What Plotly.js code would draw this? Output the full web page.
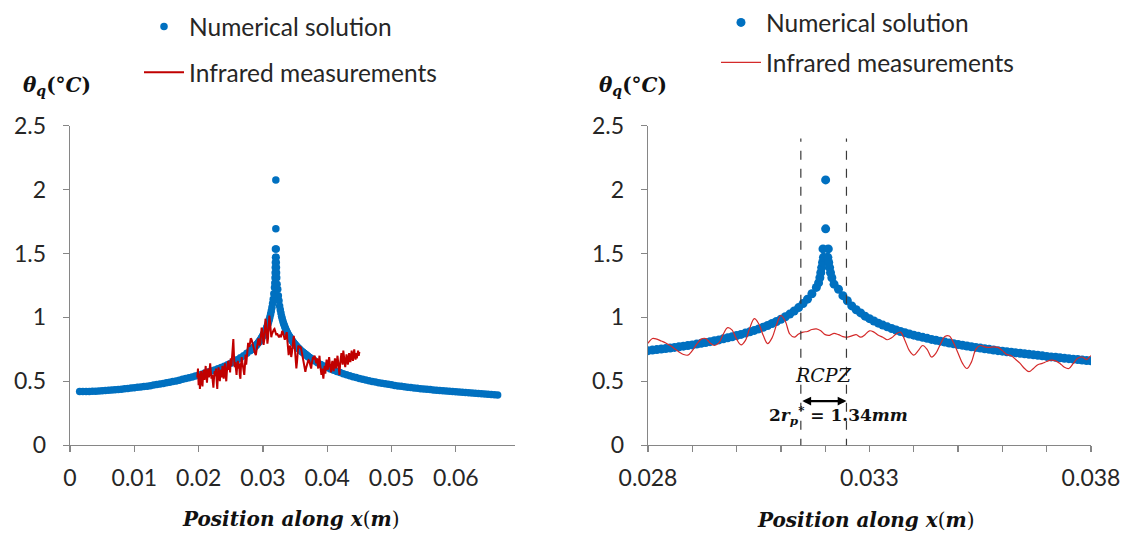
<!DOCTYPE html>
<html><head><meta charset="utf-8">
<script src="https://cdn.plot.ly/plotly-3.0.1.min.js"></script>
<style>html,body{margin:0;padding:0;background:#fff}#chart{width:1125px;height:534px}</style>
</head><body><div id="chart"></div>
<script>
// ---------- DATA ----------
// Numerical solution (blue dots), position x (m) and theta_q (°C)
const numXOuterL = [0.0015,0.0020,0.0025,0.0030,0.0035,0.0040,0.0045,0.0050,
  0.0055,0.0060,0.0065,0.0070,0.0075,0.0080,0.0085,0.0090,0.0095,0.0100,
  0.0105,0.0110,0.0115,0.0120,0.0125,0.0130,0.0135,0.0140,0.0145,0.0150,
  0.0155,0.0160,0.0165,0.0170,0.0175,0.0180,0.0185,0.0190,0.0195,0.0200,
  0.0205,0.0210,0.0215,0.0220,0.0225,0.0230,0.0235,0.0240,0.0245,0.0250,
  0.0255,0.0260,0.0265,0.0270,0.0275];
const numYOuterL = [0.42,0.42,0.42,0.421,0.422,0.423,0.424,0.426,
  0.428,0.43,0.432,0.434,0.436,0.438,0.441,0.444,0.447,0.45,
  0.453,0.456,0.459,0.462,0.466,0.47,0.474,0.478,0.483,0.488,
  0.493,0.498,0.503,0.509,0.515,0.521,0.527,0.534,0.541,0.548,
  0.556,0.564,0.572,0.58,0.589,0.598,0.608,0.618,0.629,0.642,
  0.655,0.669,0.684,0.70,0.72];
const numXNearL = [0.0280,0.0281,0.0282,0.0283,0.0284,0.0285,0.0286,0.0287,0.0288,0.0289,
  0.0290,0.0291,0.0292,0.0293,0.0294,0.0295,0.0296,0.0297,0.0298,0.0299,
  0.0300,0.0301,0.0302,0.0303,0.0304,0.0305,0.0306,0.0307,0.0308,0.0309,
  0.0310,0.0311,0.0312,0.0313,0.0314,0.0315,0.0316,0.0317,0.0318];
const numYNearL = [0.740,0.744,0.748,0.752,0.756,0.760,0.765,0.770,0.775,0.780,
  0.785,0.791,0.797,0.803,0.810,0.817,0.824,0.832,0.840,0.849,
  0.858,0.867,0.877,0.887,0.898,0.910,0.923,0.937,0.952,0.968,
  0.986,1.005,1.026,1.050,1.077,1.108,1.143,1.185,1.235];
const numXPeak = [0.03185,0.03188,0.0319,0.03192,0.03194,0.03196,0.03195,0.03201,
  0.03201,0.03207,0.03206,0.03208,0.0321,0.03212,0.03215,0.0322];
const numYPeak = [1.27,1.31,1.35,1.39,1.43,1.47,1.536,1.693,
  2.076,1.536,1.47,1.43,1.39,1.35,1.31,1.26];
const numXNearR = [0.0323,0.0324,0.0325,0.0326,0.0327,0.0328,0.0329,
  0.0330,0.0331,0.0332,0.0333,0.0334,0.0335,0.0336,0.0337,0.0338,0.0339,
  0.0340,0.0341,0.0342,0.0343,0.0344,0.0345,0.0346,0.0347,0.0348,0.0349,
  0.0350,0.0351,0.0352,0.0353,0.0354,0.0355,0.0356,0.0357,0.0358,0.0359,
  0.0360,0.0361,0.0362,0.0363,0.0364,0.0365,0.0366,0.0367,0.0368,0.0369,
  0.0370,0.0371,0.0372,0.0373,0.0374,0.0375,0.0376,0.0377,0.0378,0.0379,
  0.0380];
const numYNearR = [1.22,1.17,1.13,1.09,1.06,1.035,1.01,
  0.99,0.972,0.955,0.94,0.926,0.913,0.901,0.89,0.88,0.87,
  0.861,0.852,0.844,0.836,0.828,0.821,0.814,0.807,0.800,0.794,
  0.788,0.782,0.776,0.770,0.765,0.760,0.755,0.750,0.745,0.740,
  0.736,0.731,0.727,0.723,0.719,0.715,0.711,0.707,0.703,0.699,
  0.695,0.691,0.688,0.684,0.680,0.677,0.673,0.670,0.666,0.663,
  0.660];
const numXOuterR = [0.0385,0.0390,0.0395,0.0400,0.0405,0.0410,0.0415,0.0420,0.0425,0.0430,
  0.0435,0.0440,0.0445,0.0450,0.0455,0.0460,0.0465,0.0470,0.0475,0.0480,
  0.0485,0.0490,0.0495,0.0500,0.0505,0.0510,0.0515,0.0520,0.0525,0.0530,
  0.0535,0.0540,0.0545,0.0550,0.0555,0.0560,0.0565,0.0570,0.0575,0.0580,
  0.0585,0.0590,0.0595,0.0600,0.0605,0.0610,0.0615,0.0620,0.0625,0.0630,
  0.0635,0.0640,0.0645,0.0650,0.0655,0.0660,0.0665];
const numYOuterR = [0.645,0.632,0.620,0.608,0.597,0.587,0.577,0.568,0.559,0.551,
  0.543,0.536,0.529,0.522,0.516,0.510,0.504,0.499,0.494,0.489,
  0.484,0.480,0.476,0.472,0.468,0.464,0.461,0.457,0.454,0.451,
  0.448,0.445,0.442,0.440,0.437,0.435,0.432,0.430,0.428,0.426,
  0.424,0.422,0.420,0.418,0.416,0.414,0.412,0.410,0.408,0.406,
  0.404,0.402,0.400,0.398,0.396,0.394,0.392];

// Infrared measurements (red line)
const irX = [0.0198,0.0199,
  0.0200,0.0201,0.0202,0.0203,0.0204,0.0205,0.0206,0.0207,0.0208,0.0209,
  0.0210,0.0211,0.0212,0.0213,0.0214,0.0215,0.0216,0.0217,0.0218,0.0219,
  0.0220,0.0221,0.0222,0.0223,0.0224,0.0225,0.0226,0.0227,0.0228,0.0229,
  0.0230,0.0231,0.0232,0.0233,0.0234,0.0235,0.0236,0.0237,0.0238,0.0239,
  0.0240,0.0241,0.0242,0.0243,0.0244,0.0245,0.0246,0.0247,0.0248,0.0249,
  0.0250,0.0251,0.0252,0.0253,0.0254,0.0255,0.0256,0.0257,0.0258,0.0259,
  0.0260,0.0261,0.0262,0.0263,0.0264,0.0265,0.0266,0.0267,0.0268,0.0269,
  0.0270,0.0271,0.0272,0.0273,0.0274,0.0275,0.0276,0.0277,0.0278,0.0279,
  0.0280,0.0281,0.0282,0.0283,0.0284,0.0285,0.0286,0.0287,0.0288,0.0289,
  0.0290,0.0291,0.0292,0.0293,0.0294,0.0295,0.0296,0.0297,0.0298,0.0299,
  0.0300,0.0301,0.0302,0.0303,0.0304,0.0305,0.0306,0.0307,0.0308,0.0309,
  0.0310,0.0311,0.0312,0.0313,0.0314,0.0315,0.0316,0.0317,0.0318,0.0319,
  0.0320,0.0321,0.0322,0.0323,0.0324,0.0325,0.0326,0.0327,0.0328,0.0329,
  0.0330,0.0331,0.0332,0.0333,0.0334,0.0335,0.0336,0.0337,0.0338,0.0339,
  0.0340,0.0341,0.0342,0.0343,0.0344,0.0345,0.0346,0.0347,0.0348,0.0349,
  0.0350,0.0351,0.0352,0.0353,0.0354,0.0355,0.0356,0.0357,0.0358,0.0359,
  0.0360,0.0361,0.0362,0.0363,0.0364,0.0365,0.0366,0.0367,0.0368,0.0369,
  0.0370,0.0371,0.0372,0.0373,0.0374,0.0375,0.0376,0.0377,0.0378,0.0379,
  0.0380,0.0381,0.0382,0.0383,0.0384,0.0385,0.0386,0.0387,0.0388,0.0389,
  0.0390,0.0391,0.0392,0.0393,0.0394,0.0395,0.0396,0.0397,0.0398,0.0399,
  0.0400,0.0401,0.0402,0.0403,0.0404,0.0405,0.0406,0.0407,0.0408,0.0409,
  0.0410,0.0411,0.0412,0.0413,0.0414,0.0415,0.0416,0.0417,0.0418,0.0419,
  0.0420,0.0421,0.0422,0.0423,0.0424,0.0425,0.0426,0.0427,0.0428,0.0429,
  0.0430,0.0431,0.0432,0.0433,0.0434,0.0435,0.0436,0.0437,0.0438,0.0439,
  0.0440,0.0441,0.0442,0.0443,0.0444,0.0445,0.0446,0.0447,0.0448,0.0449,
  0.0450];
const irY = [0.53,0.60,
  0.47,0.56,0.44,0.52,0.58,0.50,0.46,0.55,0.59,0.51,
  0.57,0.62,0.54,0.49,0.56,0.60,0.53,0.58,0.64,0.57,
  0.52,0.55,0.50,0.45,0.53,0.58,0.54,0.60,0.51,0.44,
  0.55,0.61,0.56,0.50,0.57,0.59,0.53,0.62,0.57,0.52,
  0.60,0.64,0.55,0.50,0.58,0.61,0.66,0.59,0.63,0.57,
  0.68,0.62,0.72,0.80,0.83,0.70,0.61,0.65,0.58,0.55,
  0.62,0.66,0.60,0.64,0.55,0.52,0.63,0.69,0.65,0.60,
  0.58,0.55,0.62,0.71,0.63,0.70,0.75,0.80,0.78,0.77,
  0.80,0.835,0.83,0.815,0.80,0.78,0.755,0.73,0.71,0.705,
  0.74,0.79,0.83,0.835,0.80,0.78,0.80,0.87,0.92,0.90,
  0.83,0.785,0.82,0.92,0.99,0.95,0.86,0.795,0.84,0.94,
  1.015,0.97,0.87,0.845,0.87,0.885,0.89,0.905,0.91,0.895,
  0.865,0.86,0.875,0.865,0.85,0.845,0.855,0.865,0.845,0.865,
  0.895,0.885,0.86,0.845,0.825,0.84,0.87,0.885,0.82,0.74,
  0.705,0.74,0.78,0.75,0.69,0.72,0.79,0.85,0.855,0.80,
  0.72,0.64,0.60,0.65,0.75,0.78,0.77,0.765,0.77,0.765,
  0.74,0.71,0.70,0.67,0.64,0.60,0.575,0.60,0.63,0.64,
  0.655,0.665,0.66,0.64,0.61,0.60,0.64,0.68,0.69,0.67,
  0.70,0.69,0.66,0.64,0.68,0.62,0.60,0.66,0.70,0.63,
  0.58,0.55,0.60,0.53,0.52,0.58,0.62,0.56,0.64,0.67,
  0.61,0.59,0.65,0.69,0.64,0.60,0.57,0.63,0.66,0.61,
  0.58,0.64,0.68,0.62,0.60,0.66,0.70,0.65,0.61,0.55,
  0.63,0.69,0.72,0.67,0.63,0.74,0.70,0.64,0.61,0.66,
  0.71,0.68,0.63,0.66,0.72,0.69,0.65,0.70,0.74,0.68,
  0.66,0.71,0.75,0.70,0.67,0.72,0.68,0.71,0.74,0.70,
  0.73];

// Tick labels
const yTickVals = [0,0.5,1,1.5,2,2.5];
const yTickText = ['0','0.5','1','1.5','2','2.5'];
const xLeftTickVals = [0,0.01,0.02,0.03,0.04,0.05,0.06];
const xLeftTickText = ['0','0.01','0.02','0.03','0.04','0.05','0.06'];
const xRightTickVals = [0.028,0.033,0.038];
const xRightTickText = ['0.028','0.033','0.038'];

// RCPZ zone bounds (m)
const rcpzBounds = [0.03145,0.03248];
const seriesNames = ['Numerical solution','Infrared measurements'];

// ---------- BUILD ----------
const numX = [].concat(numXOuterL, numXNearL, numXPeak, numXNearR, numXOuterR);
const numY = [].concat(numYOuterL, numYNearL, numYPeak, numYNearR, numYOuterR);

const W = 1125, H = 534;
const px = v => v / W, py = v => 1 - v / H;

const BLUE = '#0070C0';
const tickFont = {family: 'Lato, "Open Sans", sans-serif', size: 23, color: '#262626'};
const axisLine = '#868686';

const traces = [
  {x: numX, y: numY, xaxis: 'x', yaxis: 'y', type: 'scatter', mode: 'markers',
   name: seriesNames[0], legend: 'legend', legendgroup: 'a',
   marker: {color: BLUE, size: 7.5}},
  {x: irX, y: irY, xaxis: 'x', yaxis: 'y', type: 'scatter', mode: 'lines',
   name: seriesNames[1], legend: 'legend', legendgroup: 'b',
   line: {color: '#C00000', width: 2}},
  {x: numX, y: numY, xaxis: 'x2', yaxis: 'y2', type: 'scatter', mode: 'markers',
   name: seriesNames[0], legend: 'legend2', legendgroup: 'c',
   marker: {color: BLUE, size: 9}},
  {x: irX, y: irY, xaxis: 'x2', yaxis: 'y2', type: 'scatter', mode: 'lines',
   name: seriesNames[1], legend: 'legend2', legendgroup: 'd',
   line: {color: '#D42A2A', width: 1.2, shape: 'spline', smoothing: 1}}
];

function yAxis(anchor) {
  return {domain: [py(445), py(125)], range: [0, 2.5], anchor: anchor,
    tickvals: yTickVals, ticktext: yTickText, tickfont: tickFont,
    showline: true, linecolor: axisLine, linewidth: 1.3,
    ticks: 'outside', ticklen: 6, tickcolor: axisLine, tickwidth: 1.3,
    ticklabelstandoff: 12, showgrid: false, zeroline: false, fixedrange: true};
}
const baseX = {showline: true, linecolor: axisLine, linewidth: 1.3,
  ticks: 'outside', ticklen: 6, tickcolor: axisLine, tickwidth: 1.3,
  tickfont: tickFont, ticklabelstandoff: 6, showgrid: false, zeroline: false, fixedrange: true};

const titleFont = {family: '"DejaVu Serif", serif', size: 20, color: '#111'};
const yTitle = '<b><i>θ</i><sub><i>q</i></sub>(°<i>C</i>)</b>';
const xTitle = '<b><i>Position along x</i></b>(<b><i>m</i></b>)';

const legendBase = {xanchor: 'left', yanchor: 'top', bgcolor: 'rgba(0,0,0,0)',
  font: {family: 'Lato, "Open Sans", sans-serif', size: 24.5, color: '#262626'},
  itemwidth: 40, traceorder: 'grouped'};

const layout = {
  width: W, height: H, margin: {l: 0, r: 0, t: 0, b: 0},
  paper_bgcolor: '#fff', plot_bgcolor: '#fff', showlegend: true,
  xaxis: Object.assign({}, baseX, {domain: [px(70), px(515)], range: [0, 0.0692], anchor: 'y',
    tickvals: xLeftTickVals, ticktext: xLeftTickText}),
  yaxis: yAxis('x'),
  xaxis2: Object.assign({}, baseX, {domain: [px(648), px(1091)], range: [0.028, 0.038], anchor: 'y2',
    tickvals: xRightTickVals, ticktext: xRightTickText,
    minor: {tick0: 0.028, dtick: 0.001, ticks: 'outside', ticklen: 6, tickcolor: axisLine, tickwidth: 1.3, showgrid: false}}),
  yaxis2: yAxis('x2'),
  legend: Object.assign({}, legendBase, {x: px(139), y: py(4), tracegroupgap: 11}),
  legend2: Object.assign({}, legendBase, {x: px(716), y: py(-1), tracegroupgap: 5}),
  shapes: rcpzBounds.map(b => ({type: 'line', xref: 'x2', yref: 'y2', x0: b, x1: b, y0: -0.02, y1: 2.4,
    line: {color: '#3a3a3a', width: 1.2, dash: 'dash'}})),
  annotations: [
    {xref: 'paper', yref: 'paper', x: px(57), y: py(85), text: yTitle, showarrow: false, font: titleFont, xanchor: 'center', yanchor: 'middle'},
    {xref: 'paper', yref: 'paper', x: px(633), y: py(85), text: yTitle, showarrow: false, font: titleFont, xanchor: 'center', yanchor: 'middle'},
    {xref: 'paper', yref: 'paper', x: px(290), y: py(519), text: xTitle, showarrow: false, font: titleFont, xanchor: 'center', yanchor: 'middle'},
    {xref: 'paper', yref: 'paper', x: px(865), y: py(520), text: xTitle, showarrow: false, font: titleFont, xanchor: 'center', yanchor: 'middle'},
    {xref: 'x2', yref: 'y2', x: (rcpzBounds[0] + rcpzBounds[1]) / 2, y: 0.55, text: '<i>RCPZ</i>', showarrow: false,
     font: {family: '"DejaVu Serif", serif', size: 19, color: '#111'}, xanchor: 'center', yanchor: 'middle'},
    {xref: 'x2', yref: 'y2', x: rcpzBounds[1], y: 0.345, ax: rcpzBounds[0], ay: 0.345, axref: 'x2', ayref: 'y2',
     text: '', showarrow: true, arrowhead: 2, arrowside: 'end+start', arrowsize: 0.8, arrowwidth: 2.2, arrowcolor: '#000'},
    {xref: 'x2', yref: 'y2', x: 0.03229, y: 0.23, text: '<b>2<i>r</i><sub><i>p</i></sub><sup>*</sup> = 1.34<i>mm</i></b>', showarrow: false,
     font: {family: '"DejaVu Serif", serif', size: 17, color: '#111'}, xanchor: 'center', yanchor: 'middle'}
  ]
};

Plotly.newPlot('chart', traces, layout, {staticPlot: true, displayModeBar: false});
</script></body></html>
